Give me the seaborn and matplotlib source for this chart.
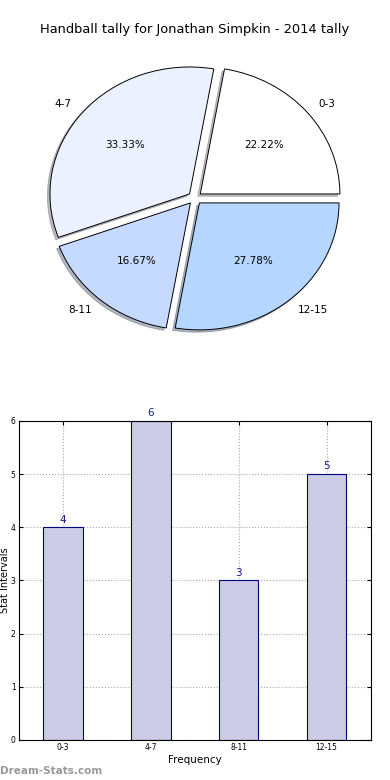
import matplotlib
matplotlib.use("Agg")
import matplotlib.pyplot as plt
import seaborn as sns
import pandas as pd

categories = ["0-3", "4-7", "8-11", "12-15"]
counts = [4, 6, 3, 5]
pie_colors = ["#FFFFFF", "#EBF1FF", "#C6D9FF", "#B4D6FF"]
title = "Handball tally for Jonathan Simpkin - 2014 tally"

sns.set_style("white")
plt.rcParams["font.family"] = ["DejaVu Sans"]
plt.rcParams.update({"text.color": "black", "axes.labelcolor": "black",
                     "xtick.color": "black", "ytick.color": "black"})

fig = plt.figure(figsize=(3.9, 7.8), dpi=100)

# Pie
ax1 = fig.add_axes([0.0523, 0.5426, 0.895, 0.407])
wedges, texts, autotexts = ax1.pie(
    counts, labels=categories, colors=pie_colors, explode=[0.05] * 4,
    autopct="%1.2f%%", shadow=dict(ox=-0.013, oy=-0.013, shade=0.5, label="_nolegend_"),
    startangle=0,
    wedgeprops=dict(edgecolor="black", linewidth=0.7),
    textprops=dict(fontsize=7.5, color="black"))
ax1.set_aspect("auto")
ax1.set_xlim(-1.25, 1.25)
ax1.set_ylim(-1.25, 1.25)
ax1.axis("off")
fig.text(0.5, 1 - 30 / 780, title, ha="center", va="center", fontsize=9.4, color="black")

# Bar
ax2 = fig.add_axes([0.0487, 0.0513, 0.9013, 0.409])
df = pd.DataFrame({"cat": categories, "val": counts})
sns.barplot(data=df, x="cat", y="val", color="#CCCCE6", edgecolor="#000080",
            linewidth=0.8, width=0.45, saturation=1, ax=ax2, zorder=2)
ax2.set_xlim(-0.5, 3.5)
ax2.set_ylim(0, 6)
ax2.grid(True, linestyle=":", color="#aaaaaa", linewidth=0.8, zorder=0)
ax2.set_axisbelow(True)
for i, v in enumerate(counts):
    ax2.text(i, v + 0.05, str(v), ha="center", va="bottom", fontsize=7.5, color="#1a1a8c")
ax2.tick_params(axis="both", labelsize=5.5, direction="in", length=3, top=True, right=True,
                bottom=True, left=True, pad=2.5)
ax2.set_xlabel("Frequency", fontsize=7.5, labelpad=2)
ax2.set_ylabel("")
fig.text(0.0, 1 - 580 / 780, "Stat Intervals", rotation=90, ha="left", va="center",
         fontsize=7)
for s in ax2.spines.values():
    s.set_visible(True)
    s.set_color("black")
    s.set_linewidth(0.8)

fig.text(0.0, 1 - 771 / 780, "Dream-Stats.com", ha="left", va="center",
         fontsize=7.5, fontweight="bold", color="#999999")

fig.savefig("out.png", dpi=100)
